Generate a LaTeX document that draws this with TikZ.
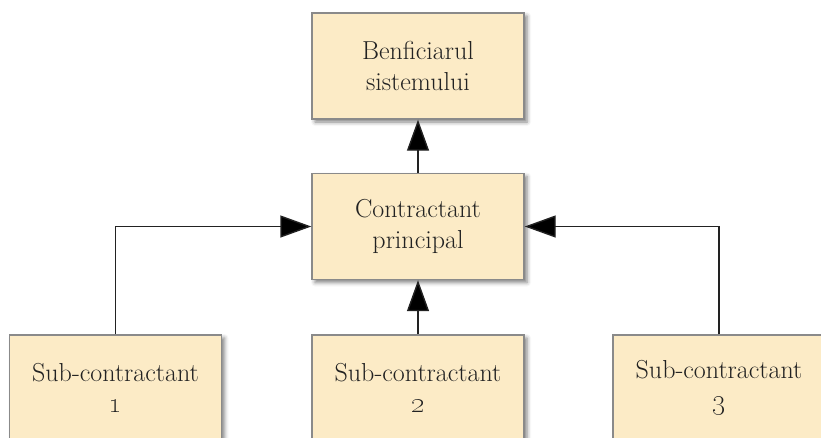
\documentclass[tikz,border=0pt]{standalone}
\usetikzlibrary{arrows.meta,shadows.blur}
\definecolor{boxfill}{HTML}{FCEBC6}
\definecolor{boxline}{HTML}{8A8A8A}
\definecolor{inkgray}{HTML}{222222}
% old-style figure, a little larger to sit with the text
\newcommand{\ofig}[1]{{\fontsize{32}{31}\selectfont\oldstylenums{#1}}}
\begin{document}
\begin{tikzpicture}[x=1pt,y=-1pt,
  orgbox/.style={draw=boxline, line width=1.4pt, fill=boxfill,
    minimum width=212pt, minimum height=106pt, inner sep=0pt,
    align=center, text=inkgray,
    font=\fontsize{26}{31}\selectfont,
    blur shadow={shadow xshift=3pt, shadow yshift=-3pt,
      shadow blur radius=4pt, shadow opacity=50}},
  link/.style={draw=inkgray, line width=1.4pt,
    -{Triangle[length=31pt,width=22pt,fill=black]}}]
  \useasboundingbox (0,0) rectangle (821,437);
  % hierarchy boxes
  \node[orgbox] (benef) at (418,66) {Benficiarul\\sistemului};
  \node[orgbox] (main)  at (418,226.5) {Contractant\\principal};
  \node[orgbox] (subA)  at (115.5,388) {Sub-contractant\\\ofig{1}};
  \node[orgbox] (subB)  at (418,388) {Sub-contractant\\\ofig{2}};
  \node[orgbox] (subC)  at (719,388) {Sub-contractant\\\ofig{3}};
  % connectors
  \draw[link] (main.north) -- (benef.south);
  \draw[link] (subB.north) -- (main.south);
  \draw[link] (subA.north) |- (main.west);
  \draw[link] (subC.north) |- (main.east);
\end{tikzpicture}
\end{document}
